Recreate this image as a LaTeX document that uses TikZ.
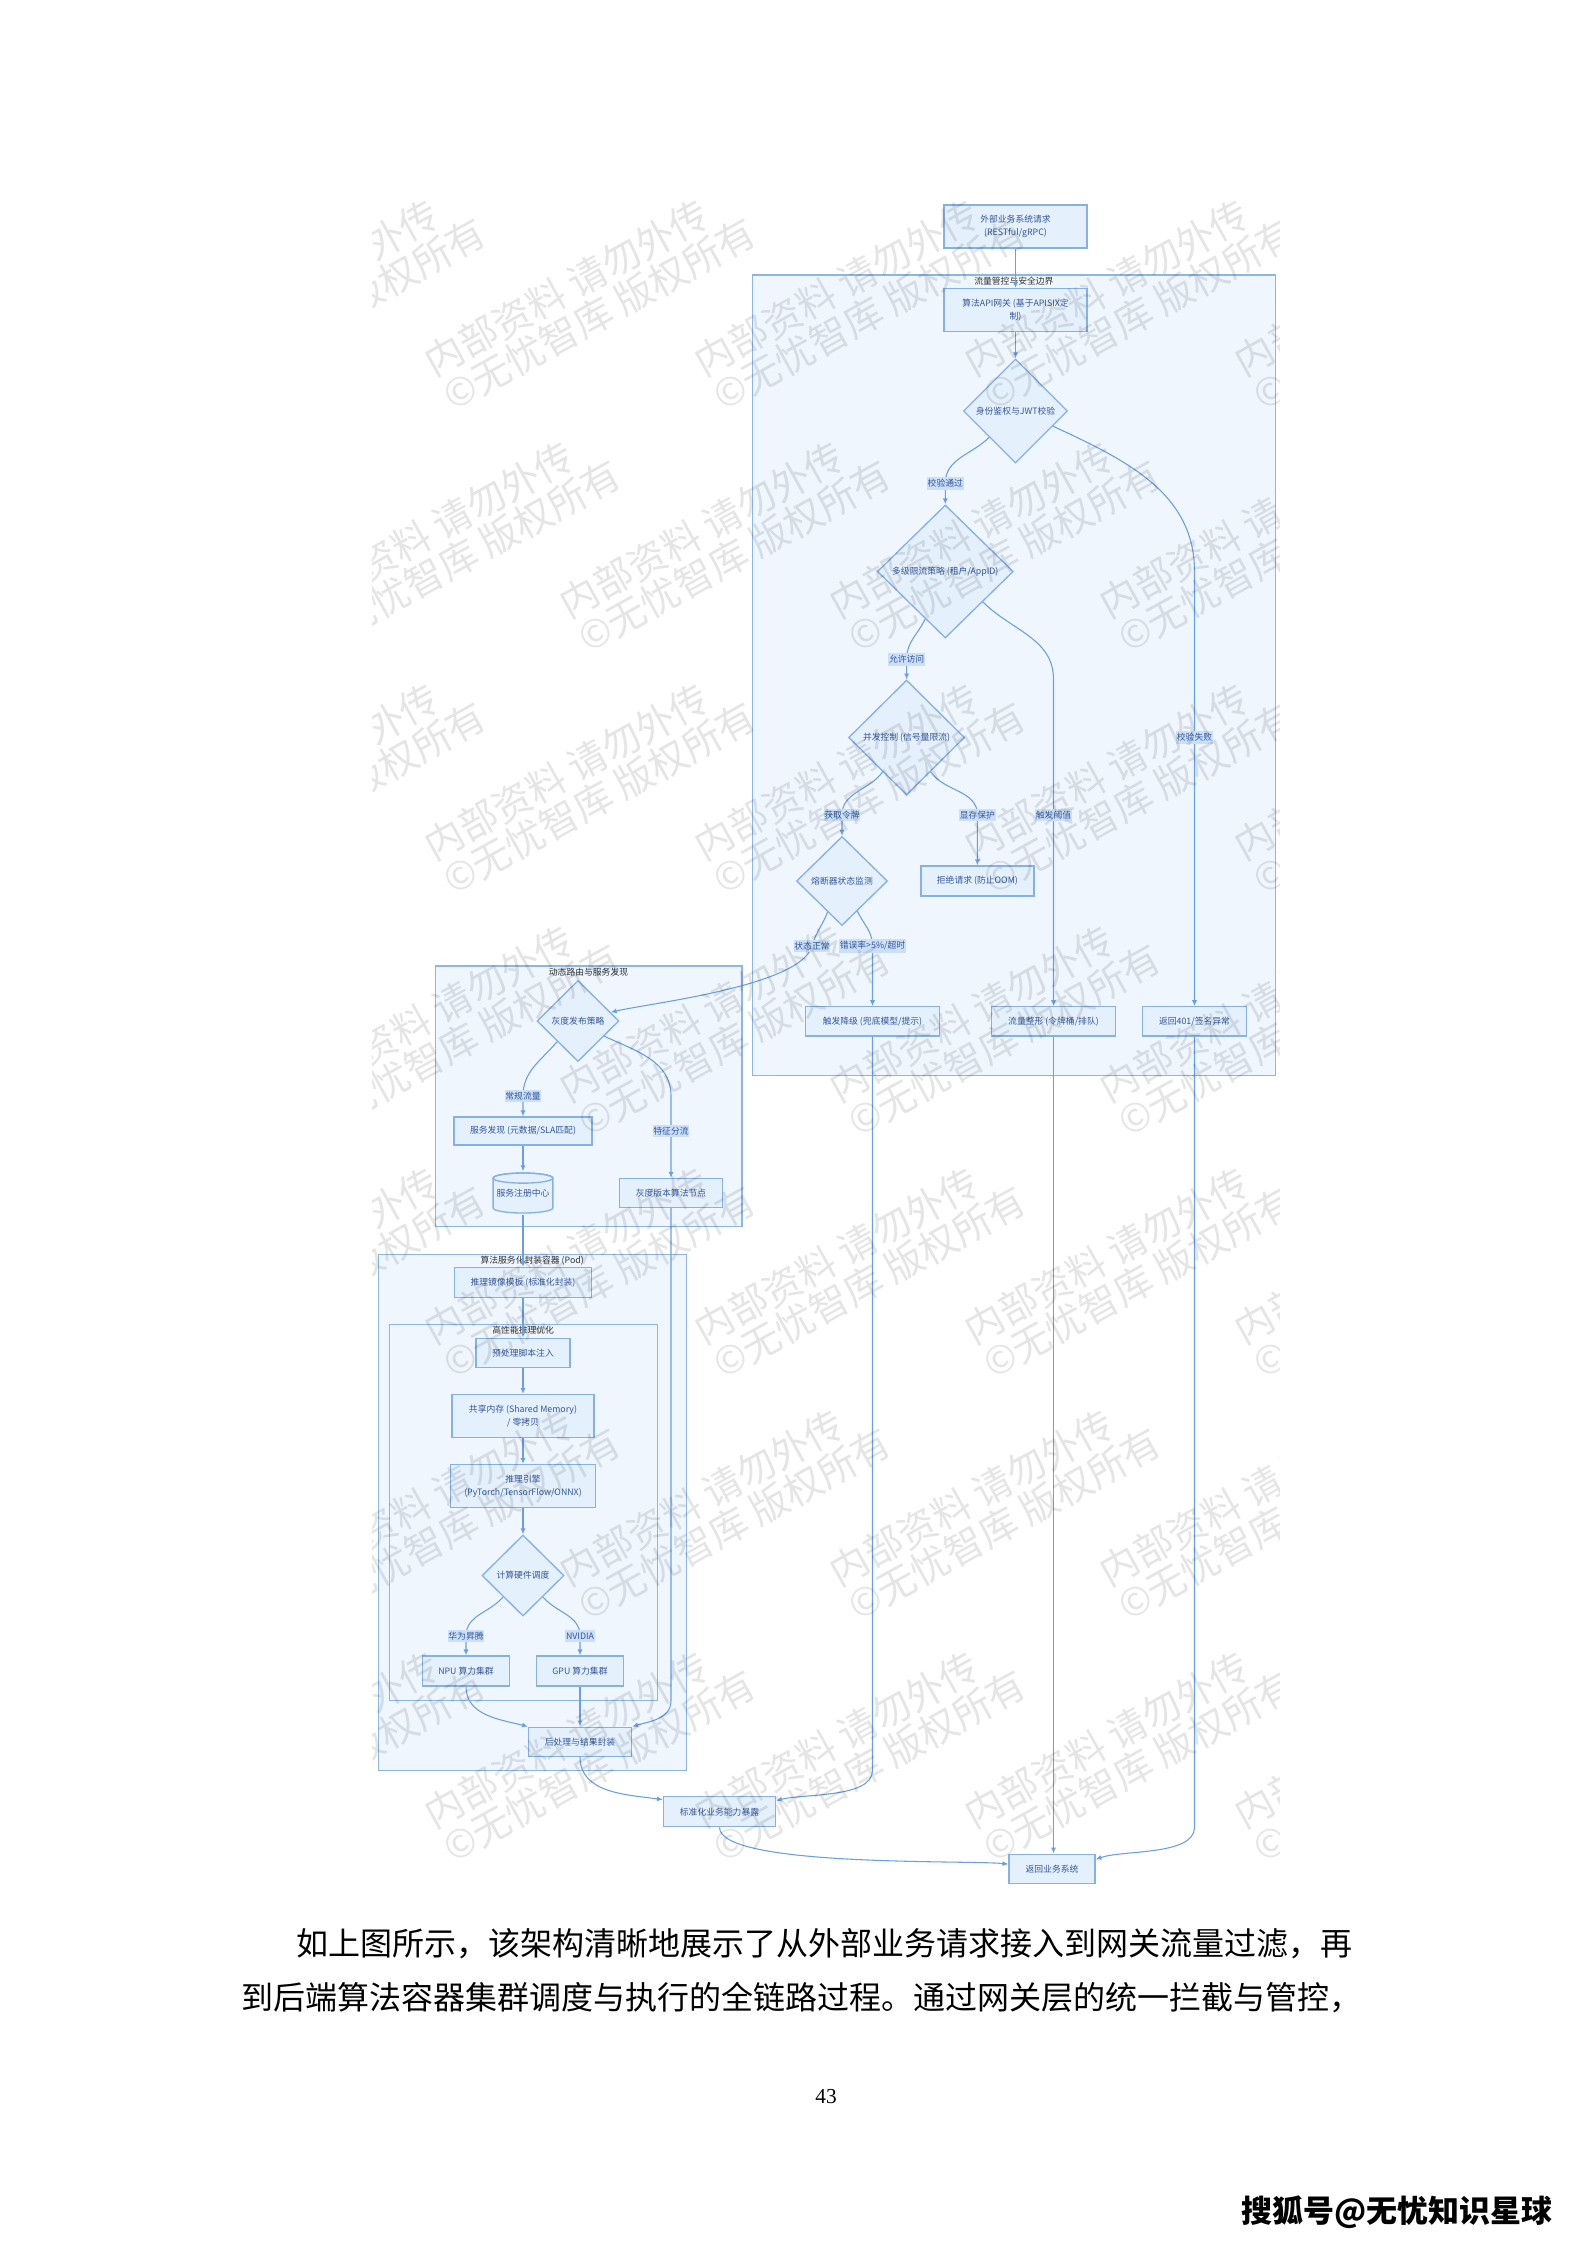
\documentclass[tikz,border=0pt]{standalone}
\usepackage{fontspec}
\setmainfont{Noto Sans CJK SC}
\newfontfamily\numfont{Liberation Serif}
\usetikzlibrary{positioning,arrows.meta,shapes.geometric,calc}
\definecolor{boxfill}{HTML}{E4F0FC}
\definecolor{boxline}{HTML}{85B1E6}
\definecolor{grpfill}{HTML}{EFF6FE}
\definecolor{grpline}{HTML}{8CB6EA}
\definecolor{wire}{HTML}{6A9FE2}
\definecolor{boxtext}{HTML}{34579A}
\definecolor{labfill}{HTML}{CBE0F8}
\newcommand{\dfont}{\fontsize{3.3pt}{4.75pt}\selectfont}
\tikzset{
  % --- diagram nodes ---------------------------------------------------
  base/.style    ={draw=boxline, line width=0.5pt, fill=boxfill, align=center,
                   inner sep=0pt, text=boxtext, font=\dfont},
  proc/.style    ={base, rectangle},
  decision/.style={base, diamond},
  % registry drawn as a small cylinder inside its own box
  store/.style   ={rectangle, inner sep=0pt, text=boxtext, font=\dfont,
                   minimum width=23.4pt, minimum height=15.9pt,
                   path picture={
                     \path[fill=boxfill, draw=boxline, line width=0.5pt]
                       ([shift={(-11.2pt,5.6pt)}]path picture bounding box.center) -- ++(0,-11.2pt)
                       arc[start angle=180, end angle=360, x radius=11.2pt, y radius=1.9pt]
                       -- ++(0,11.2pt)
                       arc[start angle=0, end angle=180, x radius=11.2pt, y radius=1.9pt] -- cycle;
                     \draw[boxline, line width=0.5pt]
                       ([shift={(0,5.6pt)}]path picture bounding box.center)
                       ellipse[x radius=11.2pt, y radius=1.9pt];
                   }},
  % --- containers ------------------------------------------------------
  group/.style   ={rectangle, draw=grpline, line width=0.4pt, fill=grpfill, inner sep=0pt},
  gtitle/.style  ={anchor=north, inner sep=0.7pt, font=\dfont, text=black!80},
  % --- connectors ------------------------------------------------------
  arrow/.style   ={draw=wire, line width=0.4pt, -{Latex[length=2.2pt,width=1.9pt]}},
  lab/.style     ={fill=labfill, text=boxtext, font=\dfont, inner xsep=0.3pt, inner ysep=0.9pt},
  % --- page ------------------------------------------------------------
  body/.style    ={anchor=west, inner sep=0pt, font=\fontsize{12pt}{14pt}\selectfont},
  wm/.style      ={rotate=29, align=left, inner sep=0pt, text=black, text opacity=0.10,
                   font=\fontsize{14.5pt}{14.6pt}\selectfont},
}

\begin{document}
\begin{tikzpicture}[x=0.375pt, y=0.375pt]
  \useasboundingbox[fill=white] (0,0) rectangle (1587,-2245);

  % ===================== groups =====================
  \node[group, minimum width=196.1pt, minimum height=300.3pt] (gate) at (1013.9,-675.4) {};
  \node[gtitle] (gate-t) at (gate.north) {流量管控与安全边界};
  \node[group, minimum width=115.1pt, minimum height=97.8pt] (route) at (588.5,-1096.4) {};
  \node[gtitle] (route-t) at (route.north) {动态路由与服务发现};
  \node[group, minimum width=115.4pt, minimum height=193.4pt] (pod) at (532.2,-1512.2) {};
  \node[gtitle] (pod-t) at (pod.north) {算法服务化封装容器 (Pod)};
  \node[group, minimum width=100.6pt, minimum height=140.9pt] (perf) at (523.2,-1512.2) {};
  \node[gtitle] (perf-t) at (perf.north) {高性能推理优化};

  % ===================== gateway =====================
  \node[proc, minimum width=53.6pt, minimum height=16.1pt] (req) at (1015.5,-226.5) {外部业务系统请求\\(RESTful/gRPC)};
  \node[proc, minimum width=53.6pt, minimum height=16.1pt] (gw) at (1015.5,-310) {算法API网关 (基于APISIX定\\制)};
  \node[decision, minimum width=39pt, minimum height=39pt] (auth) at (1015.5,-411) {身份鉴权与JWT校验};
  \node[decision, minimum width=51pt, minimum height=49.9pt] (limit) at (945.3,-571.5) {多级限流策略 (租户/AppID)};
  \node[decision, minimum width=43.5pt, minimum height=43.1pt] (conc) at (906.6,-737.5) {并发控制 (信号量限流)};
  \node[decision, minimum width=34.1pt, minimum height=33.4pt] (fuse) at (842,-881) {熔断器状态监测};
  \node[proc, minimum width=42.4pt, minimum height=11.25pt] (reject) at (977.4,-881) {拒绝请求 (防止OOM)};
  \node[proc, minimum width=50.2pt, minimum height=10.9pt] (degrade) at (872.5,-1021.3) {触发降级 (兜底模型/提示)};
  \node[proc, minimum width=46.5pt, minimum height=10.9pt] (shaping) at (1053.5,-1021.3) {流量整形 (令牌桶/排队)};
  \node[proc, minimum width=39pt, minimum height=10.9pt] (deny) at (1194.5,-1021.3) {返回401/签名异常};

  % ===================== routing =====================
  \node[decision, minimum width=30.75pt, minimum height=30.4pt] (gray) at (578,-1021) {灰度发布策略};
  \node[proc, minimum width=51.75pt, minimum height=10.5pt] (disc) at (523,-1131) {服务发现 (元数据/SLA匹配)};
  \node[store] (reg) at (523,-1193) {\raisebox{-1.6pt}{服务注册中心}};
  \node[proc, minimum width=38.6pt, minimum height=10.9pt] (canary) at (671,-1193) {灰度版本算法节点};

  % ===================== pod =====================
  \node[proc, minimum width=51.4pt, minimum height=11.25pt] (image) at (523,-1282.5) {推理镜像模板 (标准化封装)};
  \node[proc, minimum width=35.25pt, minimum height=10.9pt] (prep) at (523,-1352.8) {预处理脚本注入};
  \node[proc, minimum width=53.25pt, minimum height=16.1pt] (shm) at (523,-1416) {共享内存 (Shared Memory)\\/ 零拷贝};
  \node[proc, minimum width=54.4pt, minimum height=16.1pt] (engine) at (523,-1486) {推理引擎\\(PyTorch/TensorFlow/ONNX)};
  \node[decision, minimum width=30.75pt, minimum height=30.4pt] (hw) at (523,-1575.5) {计算硬件调度};
  \node[proc, minimum width=32.6pt, minimum height=11.25pt] (npu) at (466,-1671) {NPU 算力集群};
  \node[proc, minimum width=32.6pt, minimum height=11.25pt] (gpu) at (580,-1671) {GPU 算力集群};
  \node[proc, minimum width=38.6pt, minimum height=10.9pt] (post) at (580,-1741.7) {后处理与结果封装};

  % ===================== exits =====================
  \node[proc, minimum width=42pt, minimum height=11.25pt] (expose) at (719.5,-1811.7) {标准化业务能力暴露};
  \node[proc, minimum width=32.25pt, minimum height=10.9pt] (back) at (1052,-1868.7) {返回业务系统};

  % ===================== label spots =====================
  \coordinate (p-pass)  at (945.3,-483.3);
  \coordinate (p-allow) at (906.6,-659);
  \coordinate (p-token) at (842,-815);
  \coordinate (p-vram)  at (977.4,-815);
  \coordinate (p-thr)   at (1053.5,-815);
  \coordinate (p-fail)  at (1194.5,-737.3);
  \coordinate (p-ok)    at (812,-946);
  \coordinate (p-err)   at (872.5,-946);
  \coordinate (p-norm)  at (523,-1096);
  \coordinate (p-feat)  at (671,-1131);
  \coordinate (p-npu)   at (466,-1636);
  \coordinate (p-nv)    at (580,-1636);

  % ===================== edges =====================
  \draw[arrow] (req.south) -- (gw.north);
  \draw[arrow] (gw.south) -- (auth.north);
  \draw[arrow] (auth.south west) to[out=-135,in=90] (p-pass) -- (limit.north);
  \draw[arrow] (auth.-22) to[out=-25,in=90] (deny.north |- limit.center) -- (deny.north);
  \draw[arrow] (limit.-113) to[out=-115,in=90] (p-allow) -- (conc.north);
  \draw[arrow] (limit.-39) to[out=-45,in=90] (shaping.north |- conc.north) -- (shaping.north);
  \draw[arrow] (conc.-125) to[out=-125,in=90] (p-token) -- (fuse.north);
  \draw[arrow] (conc.-55) to[out=-55,in=90] (p-vram) -- (reject.north);
  \draw[arrow] (fuse.-63) to[out=-65,in=90] (p-err) -- (degrade.north);
  \draw[arrow] (fuse.-115) to[out=-110,in=75] (p-ok) to[out=-105,in=13,looseness=0.5] (gray.15);
  % routing
  \draw[arrow] (gray.south west) to[out=-130,in=90] (p-norm) -- (disc.north);
  \draw[arrow] (gray.-30) to[out=-25,in=90] (p-feat |- p-norm) -- (canary.north);
  \draw[arrow] (disc.south) -- (reg.north);
  \draw[arrow] (reg.south) -- (image.north);
  % pod
  \draw[arrow] (image.south) -- (prep.north);
  \draw[arrow] (prep.south) -- (shm.north);
  \draw[arrow] (shm.south) -- (engine.north);
  \draw[arrow] (engine.south) -- (hw.north);
  \draw[arrow] (hw.-133) to[out=-130,in=90] (p-npu) -- (npu.north);
  \draw[arrow] (hw.-47) to[out=-50,in=90] (p-nv) -- (gpu.north);
  \draw[arrow] (npu.south) to[out=-90,in=166] (post.north west);
  \draw[arrow] (gpu.south) -- (post.north);
  \draw[arrow] (canary.south) -- (canary.south |- perf.south) to[out=-90,in=16] (post.north east);
  % exits
  \draw[arrow] (post.south) to[out=-90,in=172] (expose.168);
  \draw[arrow] (degrade.south) -- (degrade.south |- pod.south) to[out=-90,in=15,looseness=0.7] (expose.11);
  \draw[arrow] (shaping.south) -- (shaping.south |- back.north);
  \draw[arrow] (deny.south) -- (deny.south |- expose.south) to[out=-90,in=20,looseness=0.7] (back.12);
  \draw[arrow] (expose.south) to[out=-90,in=174,looseness=0.35] (back.174);

  % ===================== edge labels =====================
  \node[lab] (l-pass)  at (p-pass)  {校验通过};
  \node[lab] (l-allow) at (p-allow) {允许访问};
  \node[lab] (l-token) at (p-token) {获取令牌};
  \node[lab] (l-vram)  at (p-vram)  {显存保护};
  \node[lab] (l-thr)   at (p-thr)   {触发阈值};
  \node[lab] (l-fail)  at (p-fail)  {校验失败};
  \node[lab] (l-ok)    at (p-ok)    {状态正常};
  \node[lab] (l-err)   at (p-err)   {错误率>5\%/超时};
  \node[lab] (l-norm)  at (p-norm)  {常规流量};
  \node[lab] (l-feat)  at (p-feat)  {特征分流};
  \node[lab] (l-npu)   at (p-npu)   {华为昇腾};
  \node[lab] (l-nv)    at (p-nv)    {NVIDIA};

  % ===================== watermark =====================
  \begin{scope}
    \clip (372,-195) rectangle (1279,-1888);
    \foreach \r in {0,...,7}{
      \foreach \k in {-1,...,3}{
        \node[wm] (wm-\r-\k) at ({590+270*\k-135*mod(\r,2)}, {-297-242*\r})
          {内部资料 请勿外传\\©无忧智库 版权所有};
      }
    }
  \end{scope}

  % ===================== page text =====================
  \node[body] (para1) at (296,-1944) {如上图所示，该架构清晰地展示了从外部业务请求接入到网关流量过滤，再};
  \node[body] (para2) at (241,-1998) {到后端算法容器集群调度与执行的全链路过程。通过网关层的统一拦截与管控，};
  \node[inner sep=0pt, font=\numfont\fontsize{8pt}{9pt}\selectfont] (pageno) at (826,-2097) {43};
  \node[body, font=\fontsize{11.6pt}{14pt}\selectfont\bfseries] (brand) at (1241,-2212) {搜狐号@无忧知识星球};

\end{tikzpicture}
\end{document}
